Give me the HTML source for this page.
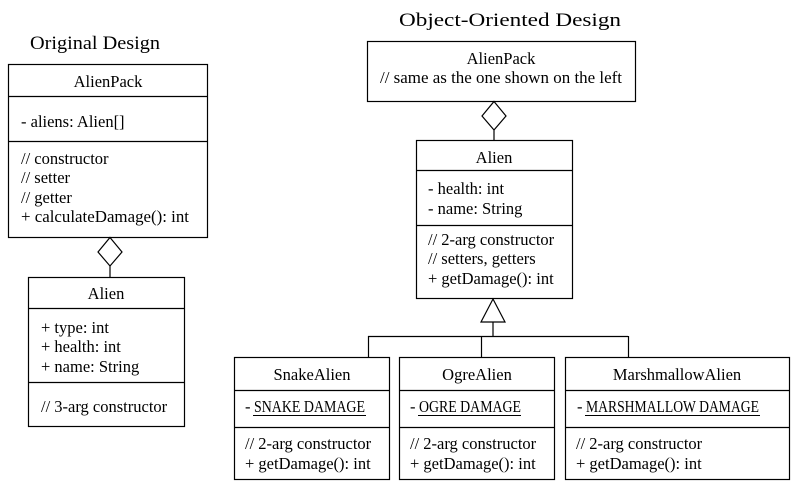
<!DOCTYPE html>
<html><head><style>body{margin:0;background:#fff}svg{display:block}text{font-family:"Liberation Serif",serif;font-size:16.5px;fill:#000}</style></head><body>
<svg width="795" height="488" viewBox="0 0 795 488" xmlns="http://www.w3.org/2000/svg">
<g fill="none" stroke="#000" stroke-width="1.2">
<rect x="8.5" y="64.5" width="199" height="173"/><line x1="8" y1="96.5" x2="208" y2="96.5"/><line x1="8" y1="141.5" x2="208" y2="141.5"/>
<polygon points="110,237.5 122,252 110,266 98,252" fill="#fff"/><line x1="110" y1="266" x2="110" y2="277"/>
<rect x="28.5" y="277.5" width="156" height="149"/><line x1="28" y1="308.5" x2="185" y2="308.5"/><line x1="28" y1="382.5" x2="185" y2="382.5"/>
<rect x="367.5" y="41.5" width="268" height="60"/>
<polygon points="494,101.5 506,116 494,130 482,116" fill="#fff"/><line x1="494" y1="130" x2="494" y2="140"/>
<rect x="416.5" y="140.5" width="156" height="158"/><line x1="416" y1="170.5" x2="573" y2="170.5"/><line x1="416" y1="225.5" x2="573" y2="225.5"/>
<polygon points="493,299 505,322 481,322" fill="#fff"/><line x1="493" y1="322" x2="493" y2="336"/>
<line x1="368" y1="336.5" x2="628" y2="336.5"/><line x1="368.5" y1="336" x2="368.5" y2="357"/><line x1="481.5" y1="336" x2="481.5" y2="357"/><line x1="628.5" y1="336" x2="628.5" y2="357"/>
<rect x="234.5" y="357.5" width="155" height="122"/><line x1="234" y1="390.5" x2="390" y2="390.5"/><line x1="234" y1="427.5" x2="390" y2="427.5"/>
<rect x="399.5" y="357.5" width="155" height="122"/><line x1="399" y1="390.5" x2="555" y2="390.5"/><line x1="399" y1="427.5" x2="555" y2="427.5"/>
<rect x="565.5" y="357.5" width="224" height="122"/><line x1="565" y1="390.5" x2="790" y2="390.5"/><line x1="565" y1="427.5" x2="790" y2="427.5"/>
</g>
<text x="30" y="49" textLength="130" lengthAdjust="spacingAndGlyphs" style="font-size:19px">Original Design</text>
<text x="399" y="26" textLength="222" lengthAdjust="spacingAndGlyphs" style="font-size:19px">Object-Oriented Design</text>
<text x="108" y="87" text-anchor="middle">AlienPack</text>
<text x="21" y="127">- aliens: Alien[]</text>
<text x="21" y="164">// constructor</text><text x="21" y="183">// setter</text><text x="21" y="203">// getter</text><text x="21" y="222" textLength="168" lengthAdjust="spacingAndGlyphs">+ calculateDamage(): int</text>
<text x="106" y="299" text-anchor="middle">Alien</text>
<text x="41" y="333">+ type: int</text><text x="41" y="352">+ health: int</text><text x="41" y="372">+ name: String</text>
<text x="41" y="412">// 3-arg constructor</text>
<text x="501" y="64" text-anchor="middle">AlienPack</text>
<text x="380" y="83" textLength="242" lengthAdjust="spacingAndGlyphs">// same as the one shown on the left</text>
<text x="494" y="163" text-anchor="middle">Alien</text>
<text x="428" y="194">- health: int</text><text x="428" y="214">- name: String</text>
<text x="428" y="245">// 2-arg constructor</text><text x="428" y="264">// setters, getters</text><text x="428" y="284">+ getDamage(): int</text>
<text x="312" y="380" text-anchor="middle">SnakeAlien</text>
<text x="477" y="380" text-anchor="middle">OgreAlien</text>
<text x="677" y="380" text-anchor="middle">MarshmallowAlien</text>
<g style="font-size:12px"><text x="245" y="412">-</text><text x="254" y="412" textLength="111" lengthAdjust="spacingAndGlyphs">SNAKE DAMAGE</text>
<text x="410" y="412">-</text><text x="419" y="412" textLength="102" lengthAdjust="spacingAndGlyphs">OGRE DAMAGE</text>
<text x="577" y="412">-</text><text x="586" y="412" textLength="173" lengthAdjust="spacingAndGlyphs">MARSHMALLOW DAMAGE</text></g>
<g stroke="#000" stroke-width="1"><line x1="253" y1="415.5" x2="366" y2="415.5"/><line x1="418" y1="415.5" x2="521" y2="415.5"/><line x1="585" y1="415.5" x2="760" y2="415.5"/></g>
<text x="245" y="449">// 2-arg constructor</text><text x="245" y="469">+ getDamage(): int</text>
<text x="410" y="449">// 2-arg constructor</text><text x="410" y="469">+ getDamage(): int</text>
<text x="576" y="449">// 2-arg constructor</text><text x="576" y="469">+ getDamage(): int</text>
</svg>
</body></html>
